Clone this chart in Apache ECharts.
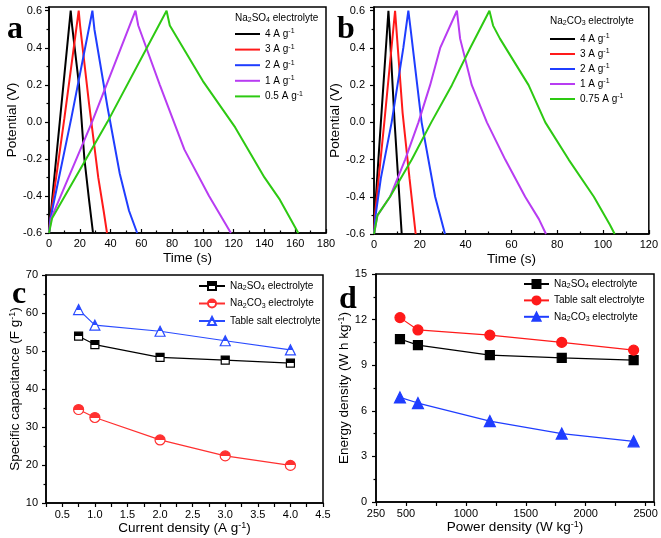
<!DOCTYPE html>
<html><head><meta charset="utf-8">
<script src="https://cdn.jsdelivr.net/npm/echarts@6/dist/echarts.min.js"></script>
<style>html,body{margin:0;padding:0;background:#fff}#c{width:661px;height:538px}</style>
</head><body><div id="c"></div>
<script>
// ---- Panel a: Na2SO4 GCD curves [time (s), potential (V)]
const a4  = [[0,-0.6],[0.5,-0.55],[7,0.0],[14.1,0.6],[15,0.52],[19.5,0.2],[23,-0.2],[26,-0.42],[28.6,-0.6]];
const a3  = [[0,-0.6],[0.6,-0.54],[10,0.02],[19.3,0.6],[20.2,0.52],[26,0.1],[32,-0.3],[35.5,-0.48],[37.7,-0.6]];
const a2  = [[0,-0.6],[1,-0.52],[14.5,0.02],[28.2,0.6],[29.5,0.5],[38,0.08],[46,-0.28],[52,-0.48],[57.3,-0.6]];
const a1  = [[0,-0.6],[1.5,-0.52],[28,0.0],[56.2,0.6],[58,0.52],[72,0.2],[88,-0.15],[104,-0.4],[118.2,-0.6]];
const a05 = [[0,-0.6],[2,-0.52],[38,0.0],[76.4,0.6],[78.5,0.52],[100,0.22],[121,-0.03],[140,-0.3],[150,-0.42],[162,-0.6]];
// ---- Panel b: Na2CO3 GCD curves
const b4   = [[0,-0.6],[0.3,-0.5],[3,0.0],[6.3,0.6],[6.8,0.5],[9,0.0],[10.8,-0.35],[12.1,-0.6]];
const b3   = [[0,-0.6],[0.4,-0.5],[4.5,0.0],[9.2,0.6],[9.8,0.5],[12.5,0.05],[15.5,-0.3],[18.2,-0.6]];
const b2   = [[0,-0.6],[0.7,-0.5],[3,-0.3],[7.7,0.0],[12.8,0.4],[15,0.6],[16,0.5],[20.8,0.0],[26.7,-0.4],[31,-0.6]];
const b1   = [[0,-0.6],[1.5,-0.5],[7,-0.4],[13.6,-0.2],[19.4,0.0],[24.5,0.2],[28.9,0.4],[36.2,0.6],[37.6,0.45],[42.7,0.2],[49.3,0.0],[57.3,-0.2],[66,-0.4],[72,-0.52],[75.1,-0.6]];
const b075 = [[0,-0.6],[1.5,-0.5],[7,-0.4],[16.5,-0.2],[25,0.0],[34,0.2],[42,0.4],[50.4,0.6],[52,0.52],[55,0.45],[67.5,0.2],[74.8,0.0],[85,-0.2],[96,-0.4],[103,-0.55],[105.1,-0.6]];
// ---- Panel c: specific capacitance
const currentDensity = [0.75, 1, 2, 3, 4];
const capNa2SO4    = [53.9, 51.7, 48.3, 47.6, 46.8];
const capNa2CO3    = [34.6, 32.5, 26.6, 22.4, 19.9];
const capTableSalt = [60.9, 56.8, 55.2, 52.7, 50.3];
// ---- Panel d: Ragone
const powerDensity    = [450, 600, 1200, 1800, 2400];
const energyNa2SO4    = [10.72, 10.32, 9.66, 9.48, 9.33];
const energyTableSalt = [12.13, 11.32, 10.98, 10.5, 9.99];
const energyNa2CO3    = [6.88, 6.51, 5.32, 4.5, 3.99];
// ---- labels
const legendLabels = {
  a4:'4 A g{sup|-1}', a3:'3 A g{sup|-1}', a2:'2 A g{sup|-1}', a1:'1 A g{sup|-1}', a05:'0.5 A g{sup|-1}',
  b4:'4 A g{sup|-1}', b3:'3 A g{sup|-1}', b2:'2 A g{sup|-1}', b1:'1 A g{sup|-1}', b075:'0.75 A g{sup|-1}',
  cNa2SO4:'Na{sub|2}SO{sub|4} electrolyte', cNa2CO3:'Na{sub|2}CO{sub|3} electrolyte', cTable:'Table salt electrolyte',
  dNa2SO4:'Na{sub|2}SO{sub|4} electrolyte', dTable:'Table salt electrolyte', dNa2CO3:'Na{sub|2}CO{sub|3} electrolyte'
};

const F = 'Liberation Sans';
const zip = (xs, ys) => xs.map((x,i)=>[x, ys[i]]);
const smallRich = {
  sup:{fontSize:7, lineHeight:6, verticalAlign:'top', fontFamily:F, color:'#000'},
  sub:{fontSize:7, lineHeight:6, verticalAlign:'bottom', fontFamily:F, color:'#000'}
};
const nameRich = {
  sup:{fontSize:9, lineHeight:8, verticalAlign:'top', fontFamily:F, color:'#000'}
};
const half = c => ({type:'linear', x:0, y:0, x2:0, y2:1, colorStops:[
  {offset:0,color:c},{offset:0.5,color:c},{offset:0.5,color:'#fff'},{offset:1,color:'#fff'}]});

const COL = {black:'#000000', red:'#ff1a1a', blue:'#1f3dff', purple:'#b83cf2', green:'#2dc912'};

function xAx(gi, min, max, interval, name, o){
  return {
    type:'value', gridIndex:gi, min, max, interval,
    name, nameLocation:'middle', nameGap:o.nameGap,
    nameTextStyle:{fontFamily:F, fontSize:13.5, color:'#000', rich:nameRich},
    axisLine:{onZero:false, lineStyle:{color:'#000', width:1.5}},
    axisTick:{show:true, inside:o.inside, length:4, lineStyle:{color:'#000', width:1.2}},
    minorTick:{show:o.minor, splitNumber:2, length:2.5, lineStyle:{color:'#000', width:1.2}},
    axisLabel:{fontFamily:F, fontSize:11, color:'#000', margin:o.margin, formatter:o.fmt, showMaxLabel:true, showMinLabel:true},
    splitLine:{show:false}
  };
}
function yAx(gi, min, max, interval, name, o){
  return {
    type:'value', gridIndex:gi, min, max, interval,
    name, nameLocation:'middle', nameGap:o.nameGap, nameRotate:90,
    nameTextStyle:{fontFamily:F, fontSize:13.5, color:'#000', rich:nameRich},
    axisLine:{onZero:false, lineStyle:{color:'#000', width:1.5}},
    axisTick:{show:true, inside:false, length:4, lineStyle:{color:'#000', width:1.2}},
    minorTick:{show:true, splitNumber:2, length:2.5, lineStyle:{color:'#000', width:1.2}},
    axisLabel:{fontFamily:F, fontSize:11, color:'#000', margin:o.margin, formatter:o.fmt},
    splitLine:{show:false}
  };
}
const fmtV = v => (v > 0.61 ? '' : v.toFixed(1));

const gcd = (name, data, color, xi) => ({
  type:'line', name, data, xAxisIndex:xi, yAxisIndex:xi, symbol:'none', smooth:false,
  lineStyle:{color, width:2}, itemStyle:{color}
});
const pts = (name, data, xi, sym, size, color, fill) => ({
  type:'line', name, data, xAxisIndex:xi, yAxisIndex:xi, symbol:sym, symbolSize:size,
  lineStyle:{color, width:1.2}, itemStyle:{color:fill, borderColor:color, borderWidth:1.2}
});

const legendBase = (data, left, top, itemWidth, itemHeight, itemGap, icon) => {
  const l = {
    data, left, top, orient:'vertical', itemWidth, itemHeight, itemGap, padding:0,
    formatter: n => legendLabels[n], selectedMode:false,
    textStyle:{fontFamily:F, fontSize:10, color:'#000', lineHeight:12, rich:smallRich}
  };
  if (icon) l.icon = icon;
  return l;
};

const headerRich = {
  t:{fontFamily:F, fontSize:10, color:'#000', lineHeight:12},
  s:{fontFamily:F, fontSize:7, color:'#000', lineHeight:6, verticalAlign:'bottom'}
};
const letter = (t, left, top) => ({type:'text', left, top, style:{text:t, font:'bold 32px "Liberation Serif"', fill:'#000'}});

const option = {
  backgroundColor:'#fff',
  animation:false,
  grid:[
    {left:49, right:335, top:7, bottom:305, show:true, borderColor:'#000', borderWidth:1.5},
    {left:374, right:11, top:7, bottom:304, show:true, borderColor:'#000', borderWidth:1.5},
    {left:46, right:338, top:275, bottom:35, show:true, borderColor:'#000', borderWidth:1.5},
    {left:376, right:7, top:274, bottom:36, show:true, borderColor:'#000', borderWidth:1.5}
  ],
  xAxis:[
    xAx(0, 0, 180, 20, 'Time (s)', {nameGap:18, inside:true, minor:true, margin:5}),
    xAx(1, 0, 120, 20, 'Time (s)', {nameGap:18, inside:true, minor:true, margin:5}),
    xAx(2, 0.25, 4.5, 0.25, 'Current density (A g{sup|-1})', {nameGap:15, inside:false, minor:false, margin:6,
      fmt: v => (Math.abs(v*2 - Math.round(v*2)) < 1e-6 ? v.toFixed(1) : '')}),
    xAx(3, 250, 2570, 250, 'Power density (W kg{sup|-1})', {nameGap:15, inside:false, minor:false, margin:6,
      fmt: v => ((v === 250 || (v % 500 === 0 && v <= 2500)) ? String(v) : '')})
  ],
  yAxis:[
    yAx(0, -0.6, 0.62, 0.2, 'Potential (V)', {nameGap:26, margin:7, fmt:fmtV}),
    yAx(1, -0.6, 0.62, 0.2, 'Potential (V)', {nameGap:22, margin:9, fmt:fmtV}),
    yAx(2, 10, 70, 10, 'Specific capacitance (F g{sup|-1})', {nameGap:11, margin:8}),
    yAx(3, 0, 15, 3, 'Energy density (W h kg{sup|-1})', {nameGap:11, margin:9})
  ],
  legend:[
    legendBase(['a4','a3','a2','a1','a05'], 235, 28, 25, 2, 3.6, 'rect'),
    legendBase(['b4','b3','b2','b1','b075'], 550, 33, 25, 2, 3, 'rect'),
    legendBase(['cNa2SO4','cNa2CO3','cTable'], 198, 280, 26, 10, 5.5),
    legendBase(['dNa2SO4','dTable','dNa2CO3'], 523, 278, 25, 10, 4.4)
  ],
  graphic:[
    letter('a', 7, 14), letter('b', 337, 14), letter('c', 12, 279), letter('d', 339, 284),
    {type:'text', left:235, top:13, style:{text:'{t|Na}{s|2}{t|SO}{s|4}{t| electrolyte}', rich:headerRich, fill:'#000'}},
    {type:'text', left:550, top:16, style:{text:'{t|Na}{s|2}{t|CO}{s|3}{t| electrolyte}', rich:headerRich, fill:'#000'}}
  ],
  series:[
    gcd('a4', a4, COL.black, 0), gcd('a3', a3, COL.red, 0), gcd('a2', a2, COL.blue, 0),
    gcd('a1', a1, COL.purple, 0), gcd('a05', a05, COL.green, 0),
    gcd('b4', b4, COL.black, 1), gcd('b3', b3, COL.red, 1), gcd('b2', b2, COL.blue, 1),
    gcd('b1', b1, COL.purple, 1), gcd('b075', b075, COL.green, 1),
    pts('cNa2SO4', zip(currentDensity, capNa2SO4), 2, 'rect', 8, '#000', half('#000')),
    pts('cNa2CO3', zip(currentDensity, capNa2CO3), 2, 'circle', 10, '#ff3030', half('#ff3030')),
    pts('cTable', zip(currentDensity, capTableSalt), 2, 'triangle', 10, '#2a4bff', half('#2a4bff')),
    pts('dNa2SO4', zip(powerDensity, energyNa2SO4), 3, 'rect', 9, '#000', '#000'),
    pts('dTable', zip(powerDensity, energyTableSalt), 3, 'circle', 10, '#ff1a1a', '#ff1a1a'),
    pts('dNa2CO3', zip(powerDensity, energyNa2CO3), 3, 'triangle', 11, '#1f3dff', '#1f3dff')
  ]
};
const chart = echarts.init(document.getElementById('c'), null, {renderer:'canvas'});
chart.setOption(option);
</script></body></html>
